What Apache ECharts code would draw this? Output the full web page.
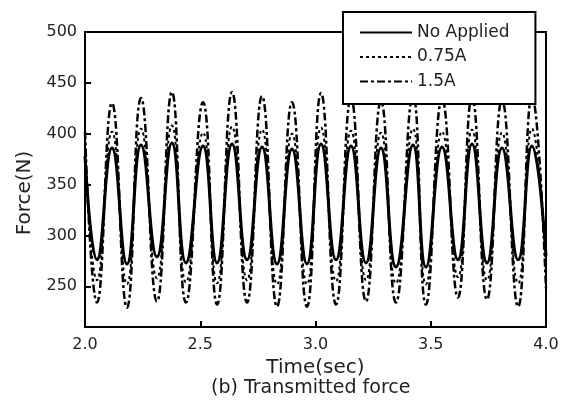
<!DOCTYPE html>
<html>
<head>
<meta charset="utf-8">
<script src="https://cdn.jsdelivr.net/npm/echarts@6/dist/echarts.min.js"></script>
<style>
  html, body { margin: 0; padding: 0; background: #fff; }
  #chart { width: 568px; height: 402px; }
</style>
</head>
<body>
<div id="chart"></div>
<script>
// Extremum times (sec): start, then alternating trough/peak, end
var times = [2.000, 2.052, 2.117, 2.182, 2.243, 2.312, 2.377, 2.438, 2.512, 2.573, 2.638,
             2.703, 2.768, 2.833, 2.898, 2.963, 3.024, 3.089, 3.154, 3.219, 3.284,
             3.349, 3.423, 3.479, 3.549, 3.618, 3.679, 3.744, 3.809, 3.879, 3.939, 4.000];
var noApplied = [378, 276, 386, 272, 389, 279, 391, 273, 388, 273, 390,
                 276, 387, 272, 385, 272, 390, 276, 388, 273, 386,
                 269, 389, 269, 387, 276, 390, 273, 386, 276, 388, 280];
var a075 = [392, 256, 402, 252, 405, 258, 408, 254, 401, 253, 407,
            256, 404, 252, 400, 252, 406, 255, 403, 256, 401,
            253, 405, 252, 402, 259, 404, 256, 401, 253, 405, 264];
var a15 = [402, 234, 430, 229, 435, 235, 441, 234, 431, 232, 441,
           234, 437, 230, 431, 230, 440, 232, 435, 235, 432,
           234, 438, 232, 434, 239, 436, 237, 433, 230, 437, 248];
var seriesNames = ['No Applied', '0.75A', '1.5A'];
var yTicks = [250, 300, 350, 400, 450, 500];
var xTicks = [2.0, 2.5, 3.0, 3.5, 4.0];

function pairs(vals) {
  return times.map(function (t, i) { return [t, vals[i]]; });
}

var FONT = '"DejaVu Sans", "Liberation Sans", Arial, sans-serif';
var TXT = '#222';

var chart = echarts.init(document.getElementById('chart'), null, { renderer: 'canvas' });
chart.setOption({
  animation: false,
  backgroundColor: '#fff',
  textStyle: { fontFamily: FONT },
  grid: {
    left: 85, right: 22, top: 32, bottom: 75,
    show: true, borderColor: '#000', borderWidth: 2, backgroundColor: 'transparent'
  },
  legend: {
    orient: 'vertical',
    left: 343, top: 12,
    data: seriesNames,
    backgroundColor: '#fff',
    borderColor: '#000',
    borderWidth: 2,
    borderRadius: 0,
    padding: [12, 26, 14, 16],
    itemWidth: 52,
    itemHeight: 14,
    itemGap: 7.5,
    itemStyle: { opacity: 0, borderWidth: 0 },
    textStyle: { fontSize: 17, color: TXT, fontFamily: FONT },
    z: 10
  },
  xAxis: {
    type: 'value',
    min: 2, max: 4, interval: 0.5,
    name: 'Time(sec)',
    nameLocation: 'middle',
    nameGap: 26,
    nameTextStyle: { fontSize: 20, color: TXT, fontFamily: FONT },
    axisLine: { show: true, lineStyle: { color: '#000', width: 2 } },
    axisTick: { show: true, inside: true, length: 6, lineStyle: { color: '#000', width: 2 } },
    axisLabel: {
      margin: 10, fontSize: 16, color: TXT, fontFamily: FONT,
      formatter: function (v) { return v.toFixed(1); }
    },
    splitLine: { show: false }
  },
  yAxis: {
    type: 'value',
    min: 210, max: 500,
    name: 'Force(N)',
    nameLocation: 'middle',
    nameRotate: 90,
    nameGap: 50,
    nameTextStyle: { fontSize: 20, color: TXT, fontFamily: FONT, padding: [0, 27, 0, 0] },
    axisLine: { show: true, lineStyle: { color: '#000', width: 2 } },
    axisTick: { show: true, inside: true, length: 6, customValues: yTicks, lineStyle: { color: '#000', width: 2 } },
    axisLabel: { margin: 8, fontSize: 16, color: TXT, fontFamily: FONT, customValues: yTicks },
    splitLine: { show: false }
  },
  graphic: [{
    type: 'text',
    left: 211, top: 379,
    style: { text: '(b) Transmitted force', fontSize: 19, fill: TXT, fontFamily: FONT }
  }],
  series: [
    {
      name: seriesNames[0], type: 'line', data: pairs(noApplied),
      smooth: 0.5, symbol: 'none', z: 3,
      lineStyle: { color: '#000', width: 3, type: 'solid' },
      itemStyle: { color: '#000' }
    },
    {
      name: seriesNames[1], type: 'line', data: pairs(a075),
      smooth: 0.5, symbol: 'none', z: 4,
      lineStyle: { color: '#000', width: 2, type: [3, 3] },
      itemStyle: { color: '#000' }
    },
    {
      name: seriesNames[2], type: 'line', data: pairs(a15),
      smooth: 0.5, symbol: 'none', z: 5,
      lineStyle: { color: '#000', width: 2.5, type: [8, 3, 3, 3] },
      itemStyle: { color: '#000' }
    }
  ]
});
</script>
</body>
</html>
